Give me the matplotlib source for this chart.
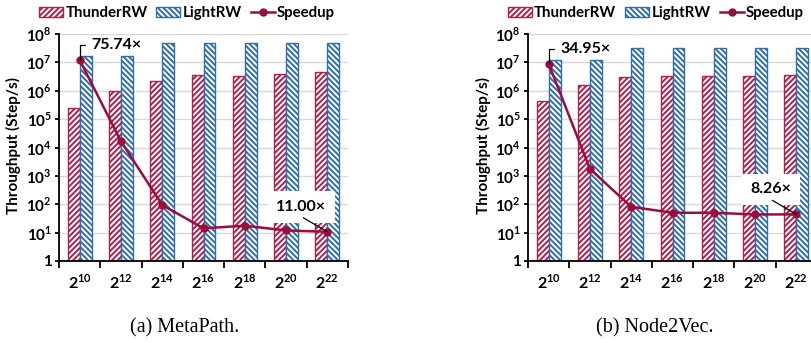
import numpy as np
import matplotlib.pyplot as plt
from matplotlib.ticker import NullLocator

plt.rcParams['font.family'] = ['Lato', 'DejaVu Sans']
plt.rcParams['font.weight'] = 'bold'
plt.rcParams['mathtext.fontset'] = 'custom'
plt.rcParams['mathtext.rm'] = 'Lato:bold'
plt.rcParams['mathtext.bf'] = 'Lato:bold'
plt.rcParams['hatch.linewidth'] = 1.4

# data
sizes = ['$2^{10}$', '$2^{12}$', '$2^{14}$', '$2^{16}$', '$2^{18}$', '$2^{20}$', '$2^{22}$']
ytick_labels = ['1'] + ['$10^{%d}$' % i for i in range(1, 9)]

metapath_thunder = [2.5e5, 1.0e6, 2.2e6, 3.6e6, 3.4e6, 3.8e6, 4.4e6]
metapath_light = [1.7e7, 1.7e7, 4.7e7, 4.7e7, 4.7e7, 4.7e7, 4.7e7]
metapath_speedup = [75.74, 45.1, 21.1, 12.3, 13.3, 11.5, 11.00]

node2vec_thunder = [4.3e5, 1.6e6, 3.0e6, 3.3e6, 3.3e6, 3.3e6, 3.5e6]
node2vec_light = [1.2e7, 1.2e7, 3.1e7, 3.2e7, 3.2e7, 3.2e7, 3.2e7]
node2vec_speedup = [34.95, 16.3, 9.6, 8.54, 8.54, 8.24, 8.26]

red = '#B01E4C'
blue = '#2F6EA8'
line_red = '#9C0C3C'


def draw(ax, thunder, light, speedup, smax, first_lab, last_lab):
    x = np.arange(len(sizes))
    w = 0.29
    ax.bar(x - w / 2, thunder, w, bottom=1, color='white', edgecolor=red,
           hatch='//////', lw=1.0, label='ThunderRW', zorder=2)
    ax.bar(x + w / 2, light, w, bottom=1, color='white', edgecolor=blue,
           hatch='\\\\\\\\\\\\', lw=1.0, label='LightRW', zorder=2)
    ax.set_yscale('log')
    ax.set_ylim(1, 1e8)
    ax.set_xlim(-0.5, 6.5)
    ax.set_yticks([10 ** i for i in range(9)])
    ax.set_yticklabels(ytick_labels, fontsize=11)
    ax.yaxis.set_minor_locator(NullLocator())
    ax.set_xticks(x)
    ax.set_xticklabels(sizes, fontsize=11.5)
    ax.set_xticks(np.arange(-0.5, 7), minor=True)
    ax.tick_params(axis='x', which='major', length=0, pad=9)
    ax.tick_params(axis='x', which='minor', length=5, width=1.3)
    ax.tick_params(axis='y', length=3, width=1.3, pad=2)
    ax.yaxis.grid(True, color='#D9D9D9', lw=1)
    ax.set_axisbelow(True)
    for s in ['top', 'right']:
        ax.spines[s].set_visible(False)
    for s in ['left', 'bottom']:
        ax.spines[s].set_linewidth(1.3)

    # speedup on a hidden linear axis
    ax2 = ax.twinx()
    ax2.plot(x, speedup, color=line_red, marker='o', ms=5, lw=1.8,
             label='Speedup', zorder=3)
    ax2.set_ylim(0, smax)
    ax2.axis('off')

    ax2.annotate(first_lab, xy=(x[0], speedup[0]), xytext=(12, 15),
                 textcoords='offset pixels', ha='left', va='center',
                 fontsize=11.5,
                 arrowprops=dict(arrowstyle='-', color='black', lw=0.9,
                                 relpos=(0, 0.5), shrinkA=3, shrinkB=0,
                                 connectionstyle='angle,angleA=0,angleB=90,rad=0'))
    ax2.annotate(last_lab, xy=(x[-1], speedup[-1]), xytext=(-26, 25),
                 textcoords='offset pixels', ha='center', va='center',
                 fontsize=11.5, zorder=4,
                 bbox=dict(boxstyle='square,pad=0.55', fc='white', ec='none'))
    ax2.annotate('', xy=(x[-1], speedup[-1]), xytext=(-24, 14),
                 textcoords='offset pixels', zorder=5,
                 arrowprops=dict(arrowstyle='-', color='black', lw=0.9,
                                 shrinkA=0, shrinkB=0))
    return ax2


fig = plt.figure(figsize=(8.11, 3.43), dpi=100)
ax_a = fig.add_axes([59 / 811, 82 / 343, 289 / 811, 227 / 343])
ax_b = fig.add_axes([528 / 811, 82 / 343, 289 / 811, 227 / 343])

a2 = draw(ax_a, metapath_thunder, metapath_light, metapath_speedup, 85.5,
          '75.74×', '11.00×')
b2 = draw(ax_b, node2vec_thunder, node2vec_light, node2vec_speedup, 40.2,
          '34.95×', '8.26×')

for ax, ax2, xc, ylx in [(ax_a, a2, 187, 13), (ax_b, b2, 656, 483)]:
    h1, l1 = ax.get_legend_handles_labels()
    h2, l2 = ax2.get_legend_handles_labels()
    fig.legend(h1 + h2, l1 + l2, loc='center', ncol=3, frameon=False,
               bbox_to_anchor=(xc / 811, 1 - 13 / 343), fontsize=10.8,
               handlelength=1.6, handleheight=0.65, handletextpad=0.15,
               columnspacing=0.6, borderaxespad=0, borderpad=0)
    fig.text(ylx / 811, 1 - 146 / 343, 'Throughput (Step/s)', rotation=90,
             ha='center', va='center', fontsize=11)

fig.text(185 / 811, 1 - 328 / 343, '(a) MetaPath.', ha='center', va='center',
         family='Liberation Serif', fontweight='normal', fontsize=14.5)
fig.text(655 / 811, 1 - 328 / 343, '(b) Node2Vec.', ha='center', va='center',
         family='Liberation Serif', fontweight='normal', fontsize=14.5)

fig.savefig('out.png', dpi=100)
